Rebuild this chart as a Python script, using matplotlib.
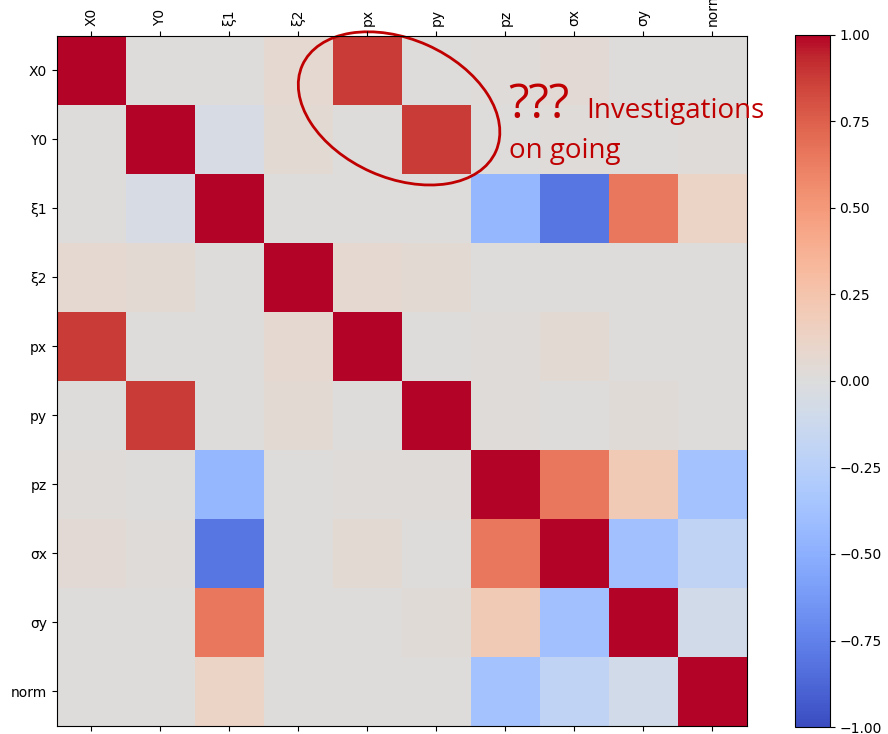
import numpy as np
import matplotlib
matplotlib.use("Agg")
import matplotlib.pyplot as plt
from matplotlib.patches import Ellipse

# ── data ───────────────────────────────────────────────────────────────────
labels = ["X0", "Y0", "ξ1", "ξ2", "px", "py", "pz", "σx", "σy", "norm"]

corr = np.array([
    # X0    Y0     ξ1     ξ2    px     py     pz     σx     σy    norm
    [1.00,  0.00,  0.00,  0.07, 0.88,  0.00,  0.02,  0.04,  0.00,  0.00],  # X0
    [0.00,  1.00, -0.05,  0.05, 0.00,  0.88,  0.00,  0.02,  0.00,  0.02],  # Y0
    [0.00, -0.05,  1.00,  0.00, 0.00,  0.00, -0.45, -0.80,  0.65,  0.12],  # ξ1
    [0.07,  0.05,  0.00,  1.00, 0.07,  0.05,  0.00,  0.00,  0.00,  0.00],  # ξ2
    [0.88,  0.00,  0.00,  0.07, 1.00,  0.00,  0.02,  0.05,  0.00,  0.00],  # px
    [0.00,  0.88,  0.00,  0.05, 0.00,  1.00,  0.02,  0.00,  0.03,  0.00],  # py
    [0.02,  0.00, -0.45,  0.00, 0.02,  0.02,  1.00,  0.65,  0.20, -0.36],  # pz
    [0.04,  0.02, -0.80,  0.00, 0.05,  0.00,  0.65,  1.00, -0.38, -0.20],  # σx
    [0.00,  0.00,  0.65,  0.00, 0.00,  0.03,  0.20, -0.38,  1.00, -0.08],  # σy
    [0.00,  0.00,  0.12,  0.00, 0.00,  0.00, -0.36, -0.20, -0.08,  1.00],  # norm
])

# ── figure ─────────────────────────────────────────────────────────────────
fig = plt.figure(figsize=(8.88, 7.34), dpi=100)
ax = fig.add_axes([0.064, 0.0095, 0.777, 0.943])
cax = fig.add_axes([0.895, 0.0095, 0.0394, 0.943])

im = ax.imshow(corr, cmap="coolwarm", vmin=-1, vmax=1, interpolation="nearest")
ax.set_xticks(range(len(labels)))
ax.set_xticklabels(labels, rotation=90)
ax.set_yticks(range(len(labels)))
ax.set_yticklabels(labels)
ax.tick_params(top=True, labeltop=True, bottom=True, labelbottom=False)

fig.colorbar(im, cax=cax)

# ── annotation ─────────────────────────────────────────────────────────────
red = "#C00000"
ax.add_patch(Ellipse((4.46, 0.55), width=3.07, height=2.01, angle=24,
                     fill=False, edgecolor=red, linewidth=2, clip_on=False))
ax.text(6.05, 0.69, "???", color=red, fontsize=34, family="Open Sans",
        va="baseline")
ax.text(7.18, 0.69, "Investigations", color=red, fontsize=20, family="Open Sans",
        va="baseline")
ax.text(6.05, 1.27, "on going", color=red, fontsize=20, family="Open Sans",
        va="baseline")

plt.savefig("out.png", dpi=100)
